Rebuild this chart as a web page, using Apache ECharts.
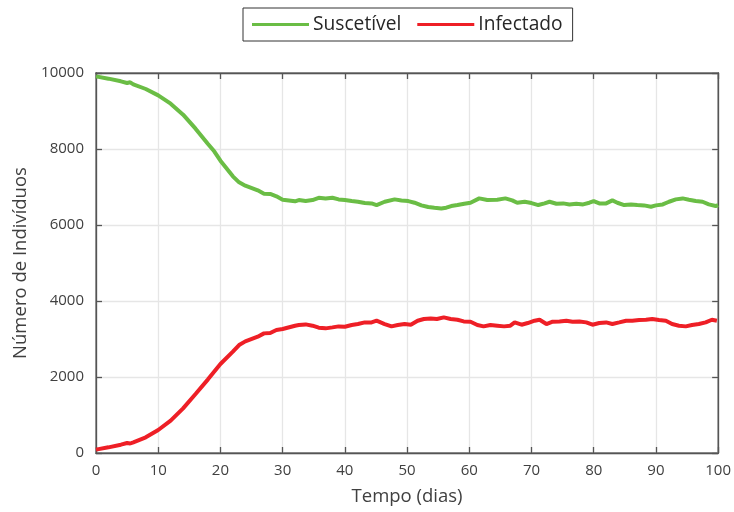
<!DOCTYPE html>
<html>
<head>
<meta charset="utf-8">
<script src="https://cdn.jsdelivr.net/npm/echarts@6/dist/echarts.min.js"></script>
<style>html,body{margin:0;padding:0;background:#fff}#c{width:734px;height:512px}</style>
</head>
<body>
<div id="c"></div>
<script>
const xTicks = [0,10,20,30,40,50,60,70,80,90,100];
const yTicks = [0,2000,4000,6000,8000,10000];
const seriesNames = ['Suscetível','Infectado'];

const sDays = [0,2,4,5,5.5,6,8,10,12,14,16,18,19,20,22,23,24,26,27,28,29,30,32,32.6,33.7,34.8,35.8,36.9,38,39,40,41.1,42.1,43.2,44.3,45.1,46.4,48,49.1,50.2,51.2,52.3,53.4,54.4,55.5,56.3,57.1,58.1,59.2,60.2,61.6,62.9,64.5,65.8,66.9,67.7,68.9,70,71.1,72.1,72.9,74,75.1,76.1,77.2,78.3,79.3,80,80.9,82,83,83.8,84.9,86,87,88.1,89.2,90,91.1,92.1,93.2,94.3,95.3,96.4,97.5,98.5,99.6,100];
const sValues = [9912,9851,9781,9737,9755,9702,9579,9412,9193,8904,8535,8132,7939,7693,7281,7123,7035,6913,6825,6816,6755,6667,6623,6656,6630,6656,6717,6700,6717,6674,6656,6630,6612,6577,6569,6525,6612,6674,6647,6630,6586,6516,6472,6455,6437,6455,6499,6525,6560,6586,6700,6656,6665,6700,6647,6586,6612,6577,6525,6569,6612,6560,6569,6542,6560,6542,6586,6630,6569,6569,6647,6586,6525,6542,6525,6516,6481,6516,6542,6612,6674,6700,6665,6630,6612,6542,6499,6525];

const iDays = [0,2,4,5,5.5,6,8,10,12,14,16,18,20,22,23,24,26,27,28,29,30,32,32.6,33.7,34.8,35.8,36.9,38,39,40,41.1,42.1,43.2,44.3,45.1,46.4,47.5,48.5,49.6,50.6,51.7,52.7,53.8,54.8,55.9,57,58.1,59.1,60.2,61.3,62.3,63.4,64.5,65.6,66.6,67.3,68.4,69.4,70.5,71.3,72.4,73.4,74.5,75.6,76.6,77.7,78.8,79.8,80.9,82,83,84.1,85.2,86.2,87.3,88.4,89.4,90.5,91.6,92.6,93.7,94.8,95.8,96.9,98,99,99.8];
const iValues = [88,149,219,263,250,281,412,605,851,1175,1552,1938,2342,2666,2841,2938,3061,3148,3157,3236,3262,3350,3368,3384,3350,3297,3280,3306,3332,3323,3368,3394,3437,3437,3481,3394,3332,3368,3394,3376,3481,3525,3542,3525,3569,3525,3507,3463,3455,3368,3332,3368,3350,3332,3350,3437,3376,3420,3481,3507,3394,3455,3463,3481,3455,3463,3437,3376,3420,3437,3394,3437,3481,3481,3498,3507,3525,3498,3481,3394,3350,3332,3368,3394,3437,3507,3481];

const sData = sDays.map((d,i)=>[d,sValues[i]]);
const iData = iDays.map((d,i)=>[d,iValues[i]]);

const FONT = '"Open Sans", "Noto Sans", sans-serif';
const TXT = '#404040';
const AX = '#555555';

const chart = echarts.init(document.getElementById('c'), null, {renderer:'canvas'});
chart.setOption({
  animation:false,
  backgroundColor:'#ffffff',
  textStyle:{fontFamily:FONT},
  legend:{
    data:seriesNames,
    left:243, top:8,
    padding:[7,10,7,9],
    itemGap:16,
    itemWidth:57, itemHeight:3,
    icon:'rect',
    borderColor:'#333333', borderWidth:1,
    textStyle:{fontFamily:FONT, fontSize:19.2, color:'#262626', padding:[0,0,0,-1]}
  },
  grid:{left:96, right:13, top:73, bottom:59, containLabel:false,
        show:true, borderColor:AX, borderWidth:1.3, backgroundColor:'transparent'},
  xAxis:[{
    type:'value', min:0, max:100, interval:10, position:'bottom',
    name:'Tempo (dias)', nameLocation:'middle', nameGap:34,
    nameTextStyle:{fontFamily:FONT, fontSize:18.5, color:TXT},
    axisLine:{show:true, onZero:false, lineStyle:{color:AX, width:1.3}},
    axisTick:{show:true, inside:true, length:6, lineStyle:{color:AX, width:1.3}},
    axisLabel:{fontFamily:FONT, fontSize:15, color:TXT, margin:10,
      formatter:v=>xTicks.includes(v)?String(v):''},
    splitLine:{show:true, lineStyle:{color:'#e6e6e6', width:1.3}}
  },{
    type:'value', min:0, max:100, interval:10, position:'top',
    axisLine:{show:true, onZero:false, lineStyle:{color:AX, width:1.3}},
    axisTick:{show:true, inside:true, length:6, lineStyle:{color:AX, width:1.3}},
    axisLabel:{show:false}, splitLine:{show:false}
  }],
  yAxis:[{
    type:'value', min:0, max:10000, interval:2000, position:'left',
    name:'Número de Indivíduos', nameLocation:'middle', nameGap:64,
    nameTextStyle:{fontFamily:FONT, fontSize:18.5, color:TXT},
    axisLine:{show:true, onZero:false, lineStyle:{color:AX, width:1.3}},
    axisTick:{show:true, inside:true, length:6, lineStyle:{color:AX, width:1.3}},
    axisLabel:{fontFamily:FONT, fontSize:15, color:TXT, margin:12,
      formatter:v=>yTicks.includes(v)?String(v):''},
    splitLine:{show:true, lineStyle:{color:'#e6e6e6', width:1.3}}
  },{
    type:'value', min:0, max:10000, interval:2000, position:'right',
    axisLine:{show:true, onZero:false, lineStyle:{color:AX, width:1.3}},
    axisTick:{show:true, inside:true, length:6, lineStyle:{color:AX, width:1.3}},
    axisLabel:{show:false}, splitLine:{show:false}
  }],
  series:[
    {name:seriesNames[0], type:'line', data:sData, showSymbol:false, symbol:'none',
     xAxisIndex:0, yAxisIndex:0,
     lineStyle:{color:'#6abd45', width:4}, itemStyle:{color:'#6abd45'}},
    {name:seriesNames[1], type:'line', data:iData, showSymbol:false, symbol:'none',
     xAxisIndex:1, yAxisIndex:1,
     lineStyle:{color:'#ee1f26', width:4}, itemStyle:{color:'#ee1f26'}}
  ]
});
</script>
</body>
</html>
